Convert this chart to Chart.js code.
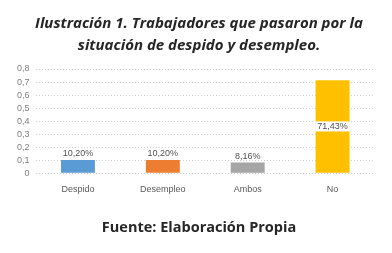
<!DOCTYPE html>
<html>
<head>
<meta charset="utf-8">
<script src="https://cdn.jsdelivr.net/npm/chart.js@4/dist/chart.umd.min.js"></script>
<style>
  html, body { margin: 0; padding: 0; background: #fff; }
  #wrap { width: 392px; height: 253px; position: relative; }
  .titulo, .fuente {
    position: absolute; left: 6px; right: 0; text-align: center;
    font-family: "Open Sans", sans-serif; font-weight: bold; color: #262626;
  }
  .titulo { top: 11px; font-size: 15px; font-style: italic; line-height: 22px; }
  .fuente { top: 217px; font-size: 14.5px; line-height: 20px; }
</style>
</head>
<body>
<div id="wrap">
  <canvas id="grafico"></canvas>
  <div class="titulo">Ilustración 1. Trabajadores que pasaron por la<br>situación de despido y desempleo.</div>
  <div class="fuente">Fuente: Elaboración Propia</div>
</div>
<script>
var categorias = ['Despido', 'Desempleo', 'Ambos', 'No'];
var valores = [0.102, 0.102, 0.0816, 0.7143];
var etiquetas = ['10,20%', '10,20%', '8,16%', '71,43%'];
var colores = ['#5B9BD5', '#ED7D31', '#A5A5A5', '#FFC000'];

// etiquetas de datos (encima de la barra, la ultima dentro con fondo blanco)
var etiquetasPlugin = {
    id: 'etiquetas',
    afterDatasetsDraw: function (chart) {
        var ctx = chart.ctx;
        var meta = chart.getDatasetMeta(0);
        ctx.save();
        ctx.font = '9px "Liberation Sans"';
        ctx.textAlign = 'center';
        ctx.textBaseline = 'middle';
        meta.data.forEach(function (bar, i) {
            var txt = etiquetas[i];
            if (i === 3) {
                var y = (bar.y + bar.base) / 2;
                var w = ctx.measureText(txt).width + 4;
                ctx.fillStyle = '#fff';
                ctx.fillRect(bar.x - w / 2, y - 5, w, 10);
                ctx.fillStyle = '#505050';
                ctx.fillText(txt, bar.x, y);
            } else {
                ctx.fillStyle = '#505050';
                ctx.fillText(txt, bar.x, bar.y - 6);
            }
        });
        ctx.restore();
    }
};

new Chart(document.getElementById('grafico'), {
    type: 'bar',
    data: {
        labels: categorias,
        datasets: [{
            data: valores,
            backgroundColor: colores,
            barPercentage: 0.8,
            categoryPercentage: 0.5
        }]
    },
    options: {
        responsive: true,
        maintainAspectRatio: false,
        animation: false,
        layout: { padding: { left: 11, right: 17, top: 69, bottom: 55 } },
        plugins: {
            legend: { display: false },
            tooltip: { enabled: false }
        },
        scales: {
            x: {
                grid: { display: false },
                border: { display: false },
                ticks: { color: '#595959', font: { family: '"Liberation Sans"', size: 9 }, padding: 3 }
            },
            y: {
                min: 0,
                max: 0.8,
                ticks: {
                    stepSize: 0.1,
                    autoSkip: false,
                    color: '#7f7f7f',
                    font: { family: '"Liberation Sans"', size: 9 },
                    padding: 6,
                    callback: function (v) { return v === 0 ? '0' : v.toFixed(1).replace('.', ','); }
                },
                grid: { color: '#d0d0d0', drawTicks: false },
                border: { display: false, dash: [1, 2] }
            }
        }
    },
    plugins: [etiquetasPlugin]
});
</script>
</body>
</html>
